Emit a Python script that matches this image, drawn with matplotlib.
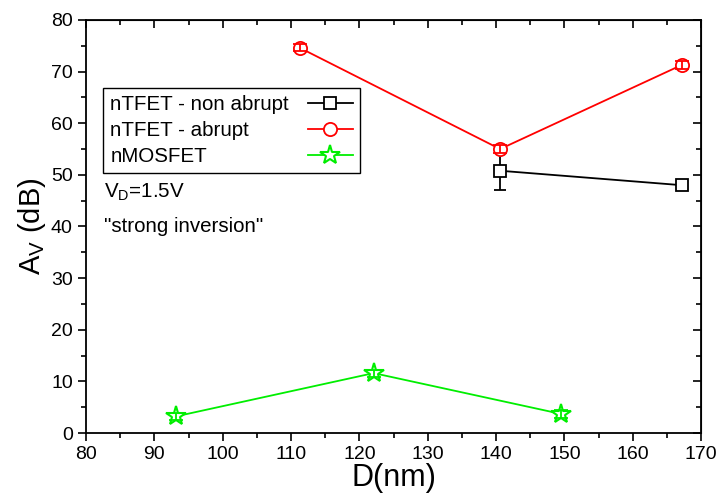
import matplotlib.pyplot as plt
from matplotlib.ticker import MultipleLocator

plt.rcParams['font.family'] = ['Liberation Sans', 'DejaVu Sans']

# data
d_nonabrupt = [140.6, 167.2]
av_nonabrupt = [50.8, 48.0]
err_nonabrupt = [3.8, 0.7]

d_abrupt = [111.3, 140.6, 167.2]
av_abrupt = [74.6, 55.0, 71.3]
err_abrupt = [0.7, 0.7, 0.7]

d_mos = [93.1, 122.1, 149.5]
av_mos = [3.2, 11.6, 3.7]
err_mos = [0.7, 0.7, 0.7]

green = '#00ee00'

fig = plt.figure(figsize=(7.19, 5.0), dpi=100)
ax = fig.add_axes([86 / 719, 67 / 500, 615 / 719, 413 / 500])

ebkw = dict(fmt='none', elinewidth=1.3, capthick=1.3)
ax.errorbar(d_nonabrupt, av_nonabrupt, yerr=err_nonabrupt, ecolor='black',
            capsize=4.3, zorder=1, **ebkw)
ax.plot(d_nonabrupt, av_nonabrupt, color='black', marker='s', ms=8, mfc='white',
        mew=1.3, lw=1.3, label='nTFET - non abrupt', zorder=2)
ax.plot(d_abrupt, av_abrupt, color='red', marker='o', ms=9.5, mfc='white',
        mew=1.3, lw=1.3, label='nTFET - abrupt', zorder=2)
ax.errorbar(d_abrupt, av_abrupt, yerr=err_abrupt, ecolor='red',
            capsize=4.8, zorder=3, **ebkw)
ax.plot(d_mos, av_mos, color=green, marker='*', ms=15, mfc='white',
        mew=1.5, lw=1.3, label='nMOSFET', zorder=2)
ax.errorbar(d_mos, av_mos, yerr=err_mos, ecolor=green,
            capsize=4.8, zorder=3, **ebkw)

ax.set_xlim(80, 170)
ax.set_ylim(0, 80)
ax.xaxis.set_major_locator(MultipleLocator(10))
ax.xaxis.set_minor_locator(MultipleLocator(5))
ax.yaxis.set_major_locator(MultipleLocator(10))
ax.yaxis.set_minor_locator(MultipleLocator(5))
ax.tick_params(which='both', direction='out', width=1.2, labelsize=14)
ax.tick_params(which='major', length=6)
ax.tick_params(which='minor', length=3.5)
for s in ax.spines.values():
    s.set_linewidth(1.3)

# mirrored ticks on top and right, pointing inward
axt = ax.secondary_xaxis('top')
axt.xaxis.set_major_locator(MultipleLocator(10))
axt.xaxis.set_minor_locator(MultipleLocator(5))
axt.tick_params(which='both', direction='in', width=1.2, labeltop=False)
axt.tick_params(which='major', length=6)
axt.tick_params(which='minor', length=3.5)
axr = ax.secondary_yaxis('right')
axr.yaxis.set_major_locator(MultipleLocator(10))
axr.yaxis.set_minor_locator(MultipleLocator(5))
axr.tick_params(which='both', direction='in', width=1.2, labelright=False)
axr.tick_params(which='major', length=6)
axr.tick_params(which='minor', length=3.5)

ax.set_xlabel('D(nm)', fontsize=22, labelpad=0)
ax.set_ylabel('A$_\\mathregular{V}$ (dB)', fontsize=21, labelpad=2)

leg = ax.legend(loc='upper left', bbox_to_anchor=(0.028, 0.835),
                fontsize=14.8, frameon=True, fancybox=False, edgecolor='black',
                framealpha=1, borderpad=0.35, labelspacing=0.33, handlelength=2.2,
                markerfirst=False, handletextpad=0.9, borderaxespad=0)
leg.get_frame().set_linewidth(1.0)

# left-align the legend labels while keeping the handles in one column
fig.canvas.draw()
r = fig.canvas.get_renderer()
column = leg._legend_handle_box.get_children()[0]
rows = column.get_children()
widths = [t.get_window_extent(r).width for t in leg.get_texts()]
wmax = max(widths)
for row, w in zip(rows, widths):
    row.sep = row.sep + (wmax - w) * 72 / fig.dpi
column.align = 'left'

ax.text(0.029, 0.584, 'V$_\\mathregular{D}$=1.5V', transform=ax.transAxes,
        fontsize=14.8, va='center')
ax.text(0.029, 0.501, '"strong inversion"', transform=ax.transAxes,
        fontsize=14.8, va='center')

fig.savefig('out.png', dpi=100)
